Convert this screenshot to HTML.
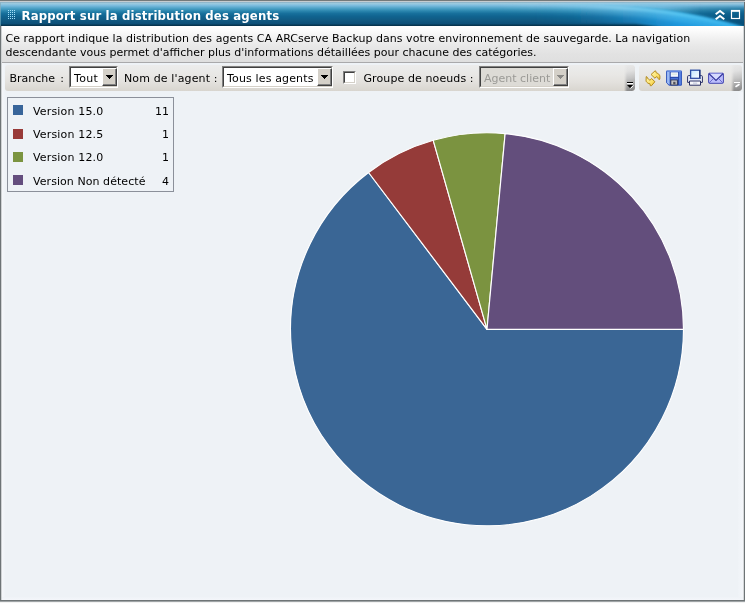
<!DOCTYPE html>
<html lang="fr">
<head>
<meta charset="utf-8">
<title>Rapport sur la distribution des agents</title>
<style>
html,body{margin:0;padding:0;}
body{width:745px;height:603px;overflow:hidden;position:relative;background:#eef2f6;
 font-family:"DejaVu Sans","Liberation Sans",sans-serif;font-size:11px;color:#000;}
.abs{position:absolute;}
#frame-top{left:0;top:0;width:745px;height:1px;background:#747a7b;}
#frame-top2{left:0;top:1px;width:745px;height:1px;background:#c6ccd0;}
#frame-left{left:0;top:0;width:1px;height:603px;background:linear-gradient(to bottom,#6e7476 0,#6e7476 1px,#8fb4c4 2px,#7fb0c6 6px,#5a98b2 14px,#4a8aa6 25px,#6e7476 26px);}
#frame-left2{left:1px;top:26px;width:1px;height:575px;background:#ced1d3;}
#glow-l{left:2px;top:63px;width:3px;height:537px;background:linear-gradient(to right,#f5f7fa,#eff3f7);}
#glow-r{left:738px;top:92px;width:5px;height:508px;background:linear-gradient(to right,#eff3f7,#f4f6fa);}
#glow-b{left:2px;top:597px;width:741px;height:3px;background:linear-gradient(to bottom,#eff3f7,#f4f6fa);}
#frame-right{left:744px;top:0;width:1px;height:603px;background:#6e7476;}
#frame-right2{left:743px;top:26px;width:1px;height:575px;background:#d4d7d9;}
#frame-bot{left:0;top:600px;width:745px;height:1px;background:#6e7476;}
#frame-bot1{left:0;top:601px;width:745px;height:1px;background:#9fa4a6;}
#frame-bot2{left:0;top:602px;width:745px;height:1px;background:#f2f2f2;}
#title{left:1px;top:2px;width:743px;height:24px;
 background:linear-gradient(to bottom,#8aaec2 0px,#9ccbe0 1.6px,#7cbcde 3.5px,#4ba0c5 6.5px,#2b86ae 9px,#17709c 11.5px,#10638f 14.5px,#115981 18.5px,#0d5079 21.5px,#083f5d 22.8px,#062e47 24px);}
#title-text{left:21.5px;top:6px;height:20px;line-height:20px;color:#fff;font-family:"DejaVu Sans Condensed","DejaVu Sans","Liberation Sans",sans-serif;font-weight:bold;font-size:13px;white-space:nowrap;letter-spacing:0.15px;}
#desc{left:2px;top:26px;width:741px;height:36px;background:linear-gradient(to bottom,#ffffff 0,#fbfbfb 5px,#f1f1f1 12px,#e8e8e8 20px,#e2e2e2 28px,#dfdfdf 36px);}
#desc-line{left:2px;top:62px;width:741px;height:1px;background:#a9a9ab;}
#desc-text{left:5.5px;top:32px;width:735px;line-height:14px;white-space:nowrap;}
.tb{top:65px;height:26px;border-radius:3px;background:linear-gradient(to bottom,#ececec 0,#e8e7e5 10px,#e3e1dd 17px,#d8d5cf 26px);}
.cap{top:65px;height:26px;border-radius:0 3px 3px 0;-webkit-mask-image:linear-gradient(to right,transparent 0,#000 3px);mask-image:linear-gradient(to right,transparent 0,#000 3px);background:linear-gradient(168deg,#e9e9e9 0%,#e0e0e0 25%,#c6c6c6 50%,#a4a4a4 75%,#858585 100%);}
.lbl{top:71px;height:16px;line-height:16px;white-space:nowrap;}
.combo{top:66px;height:22px;box-sizing:border-box;border:1px solid;border-color:#808080 #ffffff #ffffff #808080;background:#fff;}
.combo:before{content:"";position:absolute;left:0;top:0;right:0;bottom:0;border:1px solid;border-color:#404040 #d4d0c8 #d4d0c8 #404040;}
.combo .t{position:absolute;top:4px;line-height:16px;white-space:nowrap;}
.combo .b{position:absolute;right:0px;top:1px;width:15px;height:18px;box-sizing:border-box;background:#d4d0c8;border:1px solid;border-color:#ffffff #404040 #404040 #ffffff;box-shadow:inset -1px -1px 0 #808080;}
.combo .b svg{position:absolute;left:3px;top:6px;}
.combo.dis{background:#dddbd6;}
.combo.dis .t{color:#9b9a96;}
#chk{left:343px;top:71px;width:13px;height:13px;box-sizing:border-box;border:1px solid;border-color:#808080 #ffffff #ffffff #808080;background:#fff;}
#chk:before{content:"";position:absolute;left:0;top:0;right:0;bottom:0;border:1px solid;border-color:#404040 #d4d0c8 #d4d0c8 #404040;}
#legend{left:7px;top:97px;width:165px;height:93px;border:1px solid #8b909a;background:#eef2f6;}
.sw{left:13px;width:10px;height:10px;}
.lt{left:33px;height:14px;line-height:14px;white-space:nowrap;}
.ln{left:121px;width:48px;text-align:right;height:14px;line-height:14px;}
</style>
</head>
<body>
<div class="abs" id="title"></div>
<svg class="abs" id="swoosh" style="left:460px;top:2px" width="284" height="24" viewBox="-80 0 284 24">
 <defs>
  <linearGradient id="sg" x1="-60" y1="0" x2="204" y2="0" gradientUnits="userSpaceOnUse">
   <stop offset="0.2" stop-color="#1b8fd2" stop-opacity="0"/>
   <stop offset="0.341" stop-color="#1b8fd2" stop-opacity="0.1"/>
   <stop offset="0.455" stop-color="#1b90d3" stop-opacity="0.3"/>
   <stop offset="0.568" stop-color="#1b92d6" stop-opacity="0.6"/>
   <stop offset="0.682" stop-color="#1c95da" stop-opacity="0.88"/>
   <stop offset="0.758" stop-color="#1c96dc" stop-opacity="1"/>
   <stop offset="1" stop-color="#1c9be2" stop-opacity="1"/>
  </linearGradient>
  <linearGradient id="sl" x1="-60" y1="0" x2="204" y2="0" gradientUnits="userSpaceOnUse">
   <stop offset="0.076" stop-color="#a6e0f6" stop-opacity="0"/>
   <stop offset="0.265" stop-color="#a6e0f6" stop-opacity="0.14"/>
   <stop offset="0.379" stop-color="#a4e0f6" stop-opacity="0.36"/>
   <stop offset="0.53" stop-color="#9adcf4" stop-opacity="0.76"/>
   <stop offset="0.758" stop-color="#5ccbf4" stop-opacity="0.95"/>
   <stop offset="1" stop-color="#30b0ec" stop-opacity="0.95"/>
  </linearGradient>
  <linearGradient id="sd" x1="125" y1="0" x2="204" y2="0" gradientUnits="userSpaceOnUse">
   <stop offset="0" stop-color="#0b4d7a" stop-opacity="0"/>
   <stop offset="0.6" stop-color="#0b4d7a" stop-opacity="0.3"/>
   <stop offset="1" stop-color="#0b4d7a" stop-opacity="0.45"/>
  </linearGradient>
  <linearGradient id="su" x1="0" y1="0" x2="160" y2="0" gradientUnits="userSpaceOnUse">
   <stop offset="0" stop-color="#86c8e8" stop-opacity="0"/>
   <stop offset="0.45" stop-color="#86c8e8" stop-opacity="0.45"/>
   <stop offset="0.75" stop-color="#7cc4e8" stop-opacity="0.5"/>
   <stop offset="1" stop-color="#7cc4e8" stop-opacity="0"/>
  </linearGradient>
  <filter id="bl" x="-5%" y="-40%" width="110%" height="180%"><feGaussianBlur stdDeviation="1.1"/></filter>
  <filter id="bl3" x="-5%" y="-40%" width="110%" height="180%"><feGaussianBlur stdDeviation="1.5"/></filter>
  <filter id="bl2" x="-5%" y="-40%" width="110%" height="180%"><feGaussianBlur stdDeviation="2"/></filter>
  <clipPath id="sc"><rect x="-80" y="0" width="284" height="24"/></clipPath>
 </defs>
 <g clip-path="url(#sc)">
  <path d="M110,5 L210,5 L210,30 C170,15 140,8 110,5 Z" fill="url(#sd)" filter="url(#bl2)"/>
  <path d="M0,1 L160,1 L160,12 C135,7.5 100,4.5 30,3.5 L0,3 Z" fill="url(#su)" filter="url(#bl)"/>
  <path d="M-90,21 L-90,3 L30,2.5 C110,3.5 150,10.5 204,25.5 L204,30 L150,30 L95,21.5 Z" fill="url(#sg)" filter="url(#bl)"/>
  <path d="M-90,7 L30,7.5 C110,8.5 150,15.5 206,31" fill="none" stroke="url(#sl)" stroke-opacity="0.45" stroke-width="8" filter="url(#bl2)"/>
  <path d="M-90,3.5 L30,4 C110,5 150,12 206,27.5" fill="none" stroke="url(#sl)" stroke-width="3.6" filter="url(#bl3)"/>
 </g>
</svg>
<svg class="abs" style="left:7px;top:9px" width="9" height="11" viewBox="0 0 9 11">
 <g fill="#a2e0fa">
  <rect x="1" y="1" width="1" height="1"/><rect x="3" y="1" width="1" height="1"/><rect x="5" y="1" width="1" height="1"/><rect x="7" y="1" width="1" height="1"/>
  <rect x="1" y="3" width="1" height="1"/><rect x="3" y="3" width="1" height="1"/><rect x="5" y="3" width="1" height="1"/><rect x="7" y="3" width="1" height="1"/>
  <rect x="1" y="5" width="1" height="1"/><rect x="3" y="5" width="1" height="1"/><rect x="5" y="5" width="1" height="1"/><rect x="7" y="5" width="1" height="1"/>
  <rect x="1" y="7" width="1" height="1"/><rect x="3" y="7" width="1" height="1"/><rect x="5" y="7" width="1" height="1"/><rect x="7" y="7" width="1" height="1"/>
  <rect x="1" y="9" width="1" height="1"/><rect x="3" y="9" width="1" height="1"/><rect x="5" y="9" width="1" height="1"/><rect x="7" y="9" width="1" height="1"/>
 </g>
</svg>
<div class="abs" id="title-text">Rapport sur la distribution des agents</div>
<svg class="abs" style="left:713px;top:9px" width="30" height="13" viewBox="0 0 30 13">
 <path d="M2.7,5.3 L7,1.9 L11.3,5.3 M2.7,10.3 L7,6.9 L11.3,10.3" fill="none" stroke="#fff" stroke-width="2" stroke-linecap="butt" stroke-linejoin="miter"/>
 <rect x="18.5" y="1.5" width="8" height="8" fill="none" stroke="#fff" stroke-width="1.2"/>
 <rect x="18" y="1" width="9" height="1.8" fill="#fff"/>
</svg>

<div class="abs" id="desc"></div>
<div class="abs" id="desc-line"></div>
<div class="abs" id="desc-text"><span style="letter-spacing:0.03px">Ce rapport indique la distribution des agents CA ARCserve Backup dans votre environnement de sauvegarde. La navigation</span><br>descendante vous permet d'afficher plus d'informations détaillées pour chacune des catégories.</div>

<div class="abs tb" style="left:5px;width:630px"></div>
<div class="abs cap" style="left:624px;width:11px"></div>
<svg class="abs" style="left:626px;top:81px" width="9" height="9" viewBox="0 0 9 9">
 <rect x="1" y="1" width="6" height="1" fill="#000"/><rect x="1" y="2" width="6" height="1" fill="#fff"/>
 <path d="M1,4 L7,4 L4,7 Z" fill="#000"/><path d="M4.5,7.5 L7.5,4.5" stroke="#fff" stroke-width="1" fill="none"/>
</svg>
<div class="abs tb" style="left:639px;width:103px"></div>
<div class="abs cap" style="left:731px;width:11px"></div>
<svg class="abs" style="left:732px;top:80px" width="10" height="9" viewBox="0 0 10 9">
 <rect x="2" y="2" width="6" height="1" fill="#fff"/>
 <path d="M4,6.5 L7,4.5" stroke="#fff" stroke-width="1.6" fill="none" stroke-linecap="round"/>
</svg>

<div class="abs lbl" style="left:9.5px;word-spacing:1.6px">Branche :</div>
<div class="abs combo" style="left:69px;width:49px"><span class="t" style="left:4px;letter-spacing:0.3px">Tout</span><span class="b"><svg width="7" height="4" viewBox="0 0 7 4"><path d="M0,0 H7 V1 H6 V2 H5 V3 H4 V4 H3 V3 H2 V2 H1 V1 H0 Z" fill="#000"/></svg></span></div>
<div class="abs lbl" style="left:124px;letter-spacing:0.13px">Nom de l'agent :</div>
<div class="abs combo" style="left:222px;width:111px"><span class="t" style="left:4px;letter-spacing:0.15px">Tous les agents</span><span class="b"><svg width="7" height="4" viewBox="0 0 7 4"><path d="M0,0 H7 V1 H6 V2 H5 V3 H4 V4 H3 V3 H2 V2 H1 V1 H0 Z" fill="#000"/></svg></span></div>
<div class="abs" id="chk"></div>
<div class="abs lbl" style="left:363.5px;letter-spacing:0.1px">Groupe de noeuds :</div>
<div class="abs combo dis" style="left:479px;width:90px"><span class="t" style="left:4px">Agent client</span><span class="b"><svg width="7" height="4" viewBox="0 0 7 4"><path d="M0,0 H7 V1 H6 V2 H5 V3 H4 V4 H3 V3 H2 V2 H1 V1 H0 Z" fill="#8a8986"/></svg></span></div>

<!-- toolbar icons -->
<svg class="abs" style="left:645px;top:70px" width="16" height="17" viewBox="0 0 16 17">
 <defs><linearGradient id="yg" x1="0" y1="0" x2="1" y2="1"><stop offset="0" stop-color="#fff8b4"/><stop offset="0.5" stop-color="#fde676"/><stop offset="1" stop-color="#f3c83a"/></linearGradient></defs>
 <g fill="url(#yg)" stroke="#b48a1c" stroke-width="1" stroke-linejoin="round">
  <path d="M6.05,4.5 L10.0,0.9 L10.7,0.9 L11.2,2.8 C12.2,3.0 13.6,3.8 14.4,4.9 C14.8,5.5 14.95,6.2 14.9,6.75 L14.8,9.1 L14.1,9.7 C13.9,9.3 13.6,9.0 13.2,8.6 C12.9,8.0 12.7,7.4 12.3,7.0 C12.0,6.8 11.6,6.75 11.2,6.75 L10.0,8.3 Z"/>
  <path d="M9.9,11.7 L6.5,15.7 L5.3,15.7 L5.0,13.8 C4.2,13.8 3.6,13.6 3.0,13.15 C1.9,12.5 1.2,11.7 1.05,10.9 L1.2,6.65 L2.0,6.9 C2.2,7.8 2.7,8.5 3.3,9.0 C3.8,9.5 4.5,10.0 5.2,10.2 L6.5,8.5 Z"/>
 </g>
</svg>
<svg class="abs" style="left:666px;top:70px" width="17" height="16" viewBox="0 0 17 16">
 <defs><linearGradient id="fg" x1="0" y1="0" x2="1" y2="0"><stop offset="0" stop-color="#a6c2f8"/><stop offset="0.5" stop-color="#7fa3ee"/><stop offset="1" stop-color="#5580e2"/></linearGradient></defs>
 <path d="M0.6,1.1 H15.4 V15.2 H3 L0.6,12.8 Z" fill="url(#fg)" stroke="#2c52ba" stroke-width="1" stroke-linejoin="round"/>
 <rect x="0.6" y="0.5" width="14.8" height="1.3" fill="#6a90e4"/>
 <rect x="3.7" y="2" width="9.4" height="13" fill="#2446a8"/>
 <rect x="4.7" y="7.9" width="7.4" height="2.4" fill="#4a72d4"/>
 <rect x="4.7" y="2.3" width="7.4" height="4.5" fill="#f2f7ff"/>
 <rect x="5.5" y="3.6" width="5.6" height="1.1" fill="#cfe0c8" opacity="0.7"/>
 <rect x="4.9" y="10" width="6.4" height="5" fill="#c6c6c6" stroke="#2a2f4a" stroke-width="0.8"/>
 <rect x="7.2" y="11.8" width="2.3" height="2.6" fill="#50505c"/>
</svg>
<svg class="abs" style="left:687px;top:69px" width="17" height="17" viewBox="0 0 17 17">
 <defs><linearGradient id="pg" x1="0" y1="0" x2="1" y2="1"><stop offset="0" stop-color="#c4e6ff"/><stop offset="1" stop-color="#fbfdff"/></linearGradient></defs>
 <path d="M0.6,7.6 Q0.6,6.6 1.6,6.6 H14.4 Q15.4,6.6 15.4,7.6 V13.4 H0.6 Z" fill="#f1f3fa" stroke="#2b3166" stroke-width="1"/>
 <rect x="3.6" y="1.2" width="9.2" height="8.2" fill="url(#pg)" stroke="#2a4ea6" stroke-width="1.3"/>
 <rect x="12.3" y="1" width="1.1" height="8.4" fill="#1c2c66"/>
 <rect x="2.8" y="8.9" width="10.8" height="1.1" fill="#3a55a8"/>
 <rect x="3" y="10" width="10.4" height="1.6" fill="#dfe6f6"/>
 <path d="M2.5,12 V16.2 H13.5 V12 Z" fill="#f7f7fb" stroke="#2b3166" stroke-width="1"/>
 <rect x="6" y="13.6" width="4.2" height="1.1" fill="#c4c8dc"/>
</svg>
<svg class="abs" style="left:708px;top:72px" width="17" height="13" viewBox="0 0 17 13">
 <rect x="0.6" y="1.3" width="14.8" height="10" rx="0.8" fill="#bbbdfc" stroke="#4345ae" stroke-width="1"/>
 <path d="M1.1,1.8 L8,8.3 L14.9,1.8 Z" fill="#d6daff"/>
 <path d="M1,1.3 H15" stroke="#8a8ce2" stroke-width="1" fill="none"/>
 <path d="M0.8,1.5 L8,8.4 L15.2,1.5" fill="none" stroke="#33359a" stroke-width="1.15"/>
 <path d="M1.2,10.9 L5.6,6.3 M14.8,10.9 L10.4,6.3" fill="none" stroke="#5557c0" stroke-width="0.8"/>
</svg>

<div class="abs" id="glow-l"></div><div class="abs" id="glow-r"></div><div class="abs" id="glow-b"></div>
<div class="abs" id="legend"></div>
<div class="abs sw" style="top:105px;background:#38659a"></div>
<div class="abs sw" style="top:128.5px;background:#983a38"></div>
<div class="abs sw" style="top:152px;background:#7b9440"></div>
<div class="abs sw" style="top:175px;background:#644e7e"></div>
<div class="abs lt" style="top:105px;letter-spacing:0.16px">Version 15.0</div>
<div class="abs lt" style="top:128px;letter-spacing:0.16px">Version 12.5</div>
<div class="abs lt" style="top:151px;letter-spacing:0.16px">Version 12.0</div>
<div class="abs lt" style="top:175px;letter-spacing:0.06px">Version Non détecté</div>
<div class="abs ln" style="top:105px">11</div>
<div class="abs ln" style="top:128px">1</div>
<div class="abs ln" style="top:151px">1</div>
<div class="abs ln" style="top:175px">4</div>

<svg class="abs" style="left:280px;top:125px" width="420" height="410" viewBox="280 125 420 410">
 <g stroke="#ffffff" stroke-width="1.15" stroke-linejoin="round">
  <path id="p1" d="M487,329.3 L683.50,329.30 A196.5,196.5 0 1 1 368.58,172.49 Z" fill="#3a6695"/>
  <path id="p2" d="M487,329.3 L368.58,172.49 A196.5,196.5 0 0 1 433.23,140.30 Z" fill="#953b39"/>
  <path id="p3" d="M487,329.3 L433.23,140.30 A196.5,196.5 0 0 1 505.13,133.64 Z" fill="#7b9340"/>
  <path id="p4" d="M487,329.3 L505.13,133.64 A196.5,196.5 0 0 1 683.50,329.30 Z" fill="#634e7c"/>
 </g>
</svg>

<div class="abs" id="frame-left"></div>
<div class="abs" id="frame-left2"></div>
<div class="abs" id="frame-right"></div>
<div class="abs" id="frame-right2"></div>
<div class="abs" id="frame-top"></div>
<div class="abs" id="frame-top2"></div>
<div class="abs" id="frame-bot"></div>
<div class="abs" id="frame-bot1"></div>
<div class="abs" id="frame-bot2"></div>
</body>
</html>
